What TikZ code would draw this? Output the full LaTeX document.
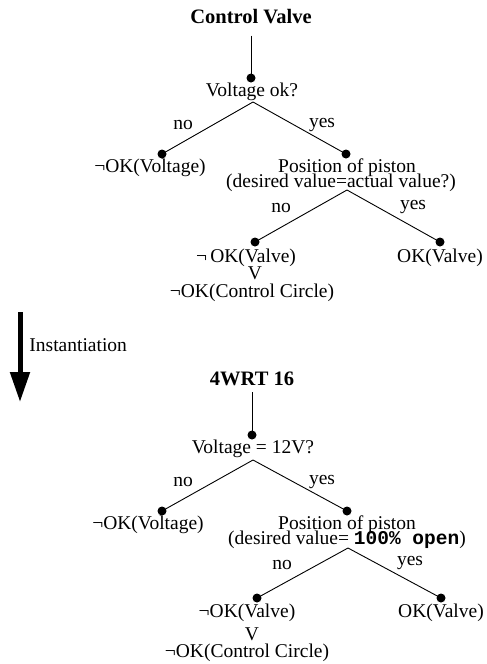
\documentclass[tikz,border=0pt]{standalone}
\usepackage{fontspec}
\setmainfont{Liberation Serif}
\setmonofont{Liberation Mono}
\usetikzlibrary{arrows.meta}
\begin{document}
\begin{tikzpicture}[x=1pt,y=-1pt,line width=0.9pt,
  every node/.style={font=\fontsize{19.5}{20}\selectfont, inner sep=0pt},
  title/.style={font=\fontsize{20.5}{21}\selectfont\bfseries},
  instarrow/.style={line width=5pt, -{Triangle[width=19pt,length=30pt]}}]
\useasboundingbox (0,0) rectangle (487,664);

% generic tree
\node[title] (cv) at (251,17) {Control Valve};
\coordinate (r1) at (251,78);
\node (q1) at (252,92) {Voltage ok?};
\coordinate (s1) at (253,102);
\coordinate (n1) at (162,154);
\coordinate (y1) at (346,154);
\node (no1) at (183,125) {no};
\node (yes1) at (322,125) {yes};
\node (nv1) at (150,168) {¬OK(Voltage)};
\node (p1) at (347,168) {Position of piston};
\node (d1) at (341,183) {(desired value=actual value?)};
\coordinate (s2) at (347,190);
\coordinate (n2) at (255,242);
\coordinate (y2) at (440,242);
\node (no2) at (281,208) {no};
\node (yes2) at (413,207) {yes};
\node (nvv1) at (246,258) {¬\,OK(Valve)};
\node (or1) at (255,273) {V};
\node (cc1) at (252,293) {¬OK(Control Circle)};
\node (ok1) at (440,258) {OK(Valve)};

\draw[shorten <=11pt] (cv.south) -- (r1);
\draw (s1) -- (n1);
\draw (s1) -- (y1);
\draw (s2) -- (n2);
\draw (s2) -- (y2);

% instantiation
\coordinate (a0) at (20,312);
\coordinate (a1) at (20,402);
\draw[instarrow] (a0) -- (a1);
\node[anchor=west] (inst) at (29,345) {Instantiation};

% concrete tree
\node[title] (wr) at (252,379) {4WRT 16};
\coordinate (r2) at (252,435);
\node (q2) at (253,449) {Voltage = 12V?};
\coordinate (s3) at (253,460);
\coordinate (n3) at (162,511);
\coordinate (y3) at (347,511);
\node (no3) at (183,482) {no};
\node (yes3) at (322,482) {yes};
\node (nv2) at (148,525) {¬OK(Voltage)};
\node (p2) at (347,525) {Position of piston};
\node (d2) at (347,540) {(desired value=\ \texttt{\bfseries 100\% open})};
\coordinate (s4) at (348,548);
\coordinate (n4) at (257,598);
\coordinate (y4) at (441,598);
\node (no4) at (282,565) {no};
\node (yes4) at (410,563) {yes};
\node (nvv2) at (247,613) {¬OK(Valve)};
\node (or2) at (252,634) {V};
\node (cc2) at (247,653) {¬OK(Control Circle)};
\node (ok2) at (441,613) {OK(Valve)};

\draw[shorten <=6pt] (wr.south) -- (r2);
\draw (s3) -- (n3);
\draw (s3) -- (y3);
\draw (s4) -- (n4);
\draw (s4) -- (y4);

\foreach \d in {r1,n1,y1,n2,y2,r2,n3,y3,n4,y4}
  \fill (\d) circle (4.5pt);

\end{tikzpicture}
\end{document}
